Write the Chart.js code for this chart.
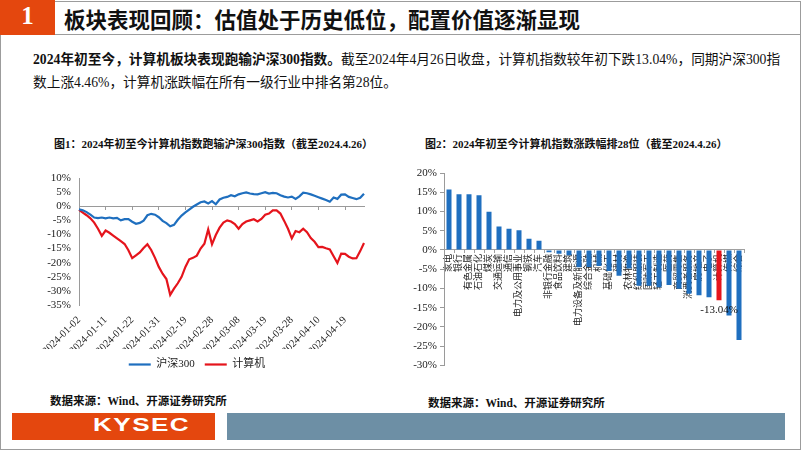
<!DOCTYPE html>
<html>
<head>
<meta charset="utf-8">
<script src="https://cdn.jsdelivr.net/npm/chart.js@4.4.1/dist/chart.umd.min.js"></script>
<style>
  body { margin: 0; background: #fff; }
  #page { position: relative; width: 802px; height: 452px; overflow: hidden;
          font-family: "Liberation Serif", "Noto Sans CJK SC", serif; color: #111; }
  .abs { position: absolute; white-space: nowrap; }
  .src { font-size: 11.5px; font-weight: bold; }
  .ttl { font-size: 11px; font-weight: bold; }
  canvas { position: absolute; }
</style>
</head>
<body>
<div id="page">
  <div class="abs" style="left:0;top:1px;width:799px;height:447px;border:1px solid #9c9c9c;"></div>
  <div class="abs" style="left:55px;top:34px;width:746px;height:1px;background:#9c9c9c;"></div>
  <div class="abs" style="left:0;top:0;width:55px;height:35px;background:#e4470e;"></div>
  <div class="abs" style="left:0;top:2px;width:55px;text-align:center;color:#fff;font-size:25px;font-weight:bold;">1</div>
  <div class="abs" style="left:64px;top:3px;font-size:21.5px;font-weight:bold;">板块表现回顾：估值处于历史低位，配置价值逐渐显现</div>

  <div class="abs" style="left:33px;top:48px;font-size:13.7px;"><b>2024年初至今，计算机板块表现跑输沪深300指数。</b>截至2024年4月26日收盘，计算机指数较年初下跌13.04%，同期沪深300指</div>
  <div class="abs" style="left:33px;top:71px;font-size:13.7px;">数上涨4.46%，计算机涨跌幅在所有一级行业中排名第28位。</div>

  <div class="abs ttl" style="left:54px;top:135px;">图1：2024年初至今计算机指数跑输沪深300指数（截至2024.4.26）</div>
  <div class="abs ttl" style="left:425px;top:135px;">图2：2024年初至今计算机指数涨跌幅排28位（截至2024.4.26）</div>

  <canvas id="lineChart" width="345" height="220" style="left:30px;top:160px;"></canvas>
  <canvas id="barChart" width="405" height="215" style="left:395px;top:160px;"></canvas>

  <div class="abs src" style="left:50px;top:392px;">数据来源：Wind、开源证券研究所</div>
  <div class="abs src" style="left:428px;top:394px;">数据来源：Wind、开源证券研究所</div>

  <div class="abs" style="left:12px;top:413px;width:203px;height:27px;background:#e4470e;"></div>
  <div class="abs" style="left:93px;top:415px;color:#fff;font-family:'Liberation Sans',Arial,sans-serif;font-weight:bold;font-size:18px;letter-spacing:1px;transform:scaleX(1.45);transform-origin:0 0;">KYSEC</div>
  <div class="abs" style="left:227px;top:413px;width:558px;height:27px;background:#6d8fa5;"></div>
</div>

<script>
// 图1 data: trading days 2024-01-02 .. 2024-04-26, cumulative change (%)
const dates = [
  '2024-01-02','2024-01-03','2024-01-04','2024-01-05','2024-01-08','2024-01-09','2024-01-10','2024-01-11',
  '2024-01-12','2024-01-15','2024-01-16','2024-01-17','2024-01-18','2024-01-19','2024-01-22','2024-01-23',
  '2024-01-24','2024-01-25','2024-01-26','2024-01-29','2024-01-30','2024-01-31',
  '2024-02-01','2024-02-02','2024-02-05','2024-02-06','2024-02-07','2024-02-08','2024-02-19','2024-02-20',
  '2024-02-21','2024-02-22','2024-02-23','2024-02-26','2024-02-27','2024-02-28','2024-02-29',
  '2024-03-01','2024-03-04','2024-03-05','2024-03-06','2024-03-07','2024-03-08','2024-03-11','2024-03-12',
  '2024-03-13','2024-03-14','2024-03-15','2024-03-18','2024-03-19','2024-03-20','2024-03-21','2024-03-22',
  '2024-03-25','2024-03-26','2024-03-27','2024-03-28','2024-03-29',
  '2024-04-01','2024-04-02','2024-04-03','2024-04-08','2024-04-09','2024-04-10','2024-04-11','2024-04-12',
  '2024-04-15','2024-04-16','2024-04-17','2024-04-18','2024-04-19','2024-04-22','2024-04-23','2024-04-24',
  '2024-04-25','2024-04-26'
];
const hs300 = [
  -1.1, -1.4, -2.1, -3.0, -4.0, -4.2, -4.0, -4.3, -4.0, -4.3,
  -4.1, -5.0, -4.6, -4.6, -5.5, -6.2, -5.9, -5.1, -3.2, -2.7,
  -3.0, -3.9, -5.2, -6.0, -7.1, -6.6, -4.8, -3.3, -2.2, -1.2,
  -0.2, 0.6, 1.4, 1.7, 1.0, 1.8, 0.7, 2.4, 3.0, 3.3,
  3.9, 3.5, 4.2, 4.6, 4.9, 4.5, 4.3, 4.2, 4.6, 5.0,
  4.5, 4.7, 4.6, 3.9, 3.4, 3.1, 3.4, 2.6, 3.5, 4.8,
  4.6, 4.2, 3.7, 3.2, 2.7, 2.2, 1.6, 3.1, 2.6, 4.1,
  4.2, 3.3, 2.9, 2.5, 3.0, 4.46
];
const computer = [
  -1.3, -2.3, -3.2, -4.3, -5.8, -8.0, -10.5, -8.6, -9.4, -10.4,
  -11.4, -12.4, -13.4, -15.6, -18.4, -17.4, -16.4, -14.8, -13.5, -15.5,
  -18.3, -21.5, -23.9, -25.8, -31.4, -29.2, -27.3, -25.0, -21.5, -18.8,
  -18.3, -17.5, -15.0, -13.3, -8.2, -13.5, -10.2, -7.6, -5.8, -5.0,
  -5.4, -6.3, -8.0, -6.3, -5.4, -5.0, -4.6, -5.4, -4.5, -3.0,
  -2.6, -1.5, -1.5, -2.6, -5.2, -8.0, -11.4, -8.8, -9.2, -8.0,
  -9.2, -11.3, -12.6, -14.5, -14.4, -14.9, -15.3, -17.7, -20.1, -16.8,
  -16.9, -17.9, -18.5, -18.4, -15.9, -13.04
];
const lineTicks = [10, 5, 0, -5, -10, -15, -20, -25, -30, -35];

// 图2 data: industry change since start of year (%)
const industries = ['家电','银行','有色金属','石油石化','煤炭','交通运输','通信','电力及公用事业','钢铁','汽车',
  '非银行金融','食品饮料','建筑','电力设备及新能源','综合金融','机械','基础化工','建材','农林牧渔','纺织服装',
  '国防军工','轻工制造','医药','商贸零售','消费者服务','房地产','电子','计算机','传媒','综合'];
const changes = [15.7, 14.5, 14.5, 14.2, 9.9, 6.1, 5.5, 5.1, 2.9, 2.4,
  -0.6, -1.0, -1.4, -4.5, -4.4, -4.2, -5.5, -6.7, -4.8, -9.3,
  -9.3, -9.7, -9.1, -10.1, -11.4, -11.8, -12.3, -13.04, -17.0, -23.4];
const barTicks = [20, 15, 10, 5, 0, -5, -10, -15, -20, -25, -30];

const BLUE = '#1f6fbf';
const RED = '#e5141c';
const FONT = '"Liberation Serif", "Noto Sans CJK SC", serif';
Chart.defaults.font.family = FONT;
Chart.defaults.color = '#222';
Chart.defaults.animation = false;

// line chart
new Chart(document.getElementById('lineChart'), {
  type: 'line',
  data: {
    labels: dates,
    datasets: [
      { label: '沪深300', data: hs300, borderColor: BLUE, backgroundColor: BLUE, borderWidth: 2.2,
        pointRadius: 0, pointStyle: 'line', tension: 0 },
      { label: '计算机', data: computer, borderColor: RED, backgroundColor: RED, borderWidth: 2.2,
        pointRadius: 0, pointStyle: 'line', tension: 0 }
    ]
  },
  options: {
    responsive: false,
    layout: { padding: { top: 18, right: 11, left: 0, bottom: 0 } },
    plugins: {
      legend: {
        position: 'bottom',
        labels: { usePointStyle: true, pointStyleWidth: 22, font: { size: 11 }, padding: 10, color: '#222' }
      },
      tooltip: { enabled: false }
    },
    scales: {
      x: {
        offset: false,
        grid: { display: false, drawTicks: false },
        border: { display: false },
        ticks: {
          autoSkip: false, minRotation: 45, maxRotation: 45, padding: 9, font: { size: 10.5 },
          callback: function (v, i) { return i % 7 === 0 ? this.getLabelForValue(v) : null; }
        },
        afterFit: s => { s.height = 44; }
      },
      x2: {
        type: 'category', labels: dates, offset: false, position: { y: 0 },
        grid: { drawOnChartArea: false, drawTicks: true, tickLength: 3, color: '#9a9a9a' },
        border: { color: '#9a9a9a' },
        ticks: { display: false, autoSkip: false,
          callback: function (v, i) { return i % 7 === 0 ? 'x' : null; } },
        afterFit: s => { s.height = 0; }
      },
      y: {
        min: -35, max: 10,
        afterBuildTicks: s => { s.ticks = lineTicks.map(v => ({ value: v })); },
        grid: { drawTicks: false, color: 'transparent' },
        border: { color: '#9a9a9a' },
        ticks: { autoSkip: false, padding: 8, font: { size: 11 }, callback: v => v + '%' },
        afterFit: s => { s.width = 49; }
      }
    }
  }
});

// bar chart
const redLabel = {
  id: 'redLabel',
  afterDatasetsDraw(chart) {
    const idx = industries.indexOf('计算机');
    const bar = chart.getDatasetMeta(0).data[idx];
    const ctx = chart.ctx;
    ctx.save();
    ctx.font = '11px ' + FONT;
    ctx.fillStyle = '#111';
    ctx.textAlign = 'center';
    ctx.textBaseline = 'top';
    ctx.fillText(changes[idx].toFixed(2) + '%', bar.x, bar.y + 4);
    ctx.restore();
  }
};

new Chart(document.getElementById('barChart'), {
  type: 'bar',
  data: {
    labels: industries,
    datasets: [{
      data: changes,
      backgroundColor: industries.map(n => n === '计算机' ? RED : BLUE),
      categoryPercentage: 1, barPercentage: 0.5
    }]
  },
  options: {
    responsive: false,
    layout: { padding: { top: 13, right: 56, left: 0, bottom: 7 } },
    plugins: { legend: { display: false }, tooltip: { enabled: false } },
    scales: {
      x: {
        position: { y: 0 },
        grid: { drawOnChartArea: false, drawTicks: true, tickLength: 3, color: '#a0a0a0', offset: true },
        border: { color: '#a0a0a0' },
        ticks: { autoSkip: false, minRotation: 90, maxRotation: 90, padding: 1, font: { size: 9 }, color: '#222' },
        afterFit: s => { s.height = 0; }
      },
      y: {
        min: -30, max: 20,
        afterBuildTicks: s => { s.ticks = barTicks.map(v => ({ value: v })); },
        grid: { drawOnChartArea: false, drawTicks: true, tickLength: 4, color: '#9a9a9a' },
        border: { color: '#9a9a9a' },
        ticks: { autoSkip: false, padding: 3, font: { size: 11 }, callback: v => v + '%' },
        afterFit: s => { s.width = 49; }
      }
    }
  },
  plugins: [redLabel]
});
</script>
</body>
</html>
